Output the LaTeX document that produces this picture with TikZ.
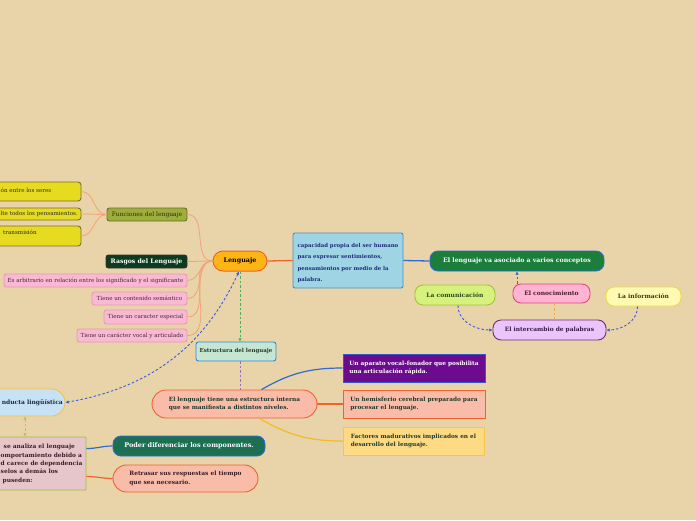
\documentclass[tikz,border=0pt]{standalone}
\usepackage{fontspec}
\setmainfont{DejaVu Serif}
\usetikzlibrary{arrows.meta}
\definecolor{bg}{HTML}{E8D4A8}
\definecolor{sal}{HTML}{F3A27A}
\definecolor{bl}{HTML}{2E6CD1}
\definecolor{bld}{HTML}{3B5BDB}
\definecolor{orr}{HTML}{F0632C}
\definecolor{salf}{HTML}{F9BCA9}
\definecolor{dgt}{HTML}{1F3A2B}
\definecolor{pinkf}{HTML}{F9B9D2}
\definecolor{pinkd}{HTML}{E59AAE}
\definecolor{pinkt}{HTML}{40263A}
\definecolor{yelf}{HTML}{E7DB1F}
\definecolor{yeld}{HTML}{7A6F35}
\newcommand\myfsS{\fontsize{5.6}{8.4}\selectfont}
\newcommand\myfsB{\fontsize{6}{8.6}\selectfont}
\newcommand\myfsM{\fontsize{5.8}{8.6}\selectfont}
\newcommand\myfsL{\fontsize{6.2}{9}\selectfont}
\begin{document}
\begin{tikzpicture}[x=1pt,y=-1pt,
  every node/.style={inner sep=0pt},
  nbox/.style={draw, line width=0.9pt, align=center},
  pinkbox/.style={nbox, fill=pinkf, draw=pinkd, rounded corners=2.5pt, minimum height=13pt, text=pinkt, font=\myfsS},
  yelbox/.style={nbox, fill=yelf, draw=yeld, rounded corners=3pt, minimum width=91pt},
  yeltext/.style={anchor=west, text=black!85, font=\myfsS},
  salline/.style={draw=sal, line width=0.8pt},
  tipend/.style={-{Latex[length=3.2pt,width=3.4pt]}},
  tipboth/.style={{Latex[length=3.2pt,width=3.4pt]}-{Latex[length=3.2pt,width=3.4pt]}},
  dashline/.style={line width=0.9pt, dash pattern=on 2.5pt off 2pt},
  rbox/.style={nbox, minimum width=142pt, minimum height=28pt, font=\myfsM\bfseries, align=left}
]
\fill[bg] (0,0) rectangle (696,520);
\useasboundingbox (0,0) rectangle (696,520);

% central node
\node[nbox, fill={rgb,255:red,253;green,181;blue,21}, draw=orr, line width=1pt, rounded corners=10pt,
  minimum width=54pt, minimum height=20pt, font=\fontsize{6.4}{9}\selectfont\bfseries] (leng) at (240,261) {Lenguaje};

% left branch
\node[nbox, fill={rgb,255:red,157;green,175;blue,58}, draw={rgb,255:red,111;green,107;blue,58},
  rounded corners=2.5pt, minimum width=80pt, minimum height=13pt, font=\fontsize{6}{9}\selectfont, text={rgb,255:red,43;green,42;blue,22}]
  (func) at (147,214.5) {Funciones del lenguaje};
\node[yelbox, minimum height=19pt] (y1) at (35.5,191.5) {};
\node[yeltext] (y1t) at (0.5,190) {ón entre los seres};
\node[yelbox, minimum height=12pt] (y2) at (35.5,214) {};
\node[yeltext] (y2t) at (0.5,214) {lte todos los pensamientos.};
\node[yelbox, minimum height=20pt] (y3) at (35.5,236) {};
\node[yeltext] (y3t) at (3,232.5) {transmisión};

\node[nbox, fill={rgb,255:red,12;green,59;blue,31}, draw=black!80, rounded corners=2.5pt,
  minimum width=81pt, minimum height=13pt, font=\myfsL\bfseries, text=white] (rasgos) at (146.5,261.5) {Rasgos del Lenguaje};
\node[pinkbox, minimum width=183pt] (p1) at (95.5,280.5) {Es arbitrario en relación entre los significado y el significante};
\node[pinkbox, minimum width=95pt] (p2) at (139.5,298.5) {Tiene un contenido semántico};
\node[pinkbox, minimum width=83pt, minimum height=14pt] (p3) at (145.5,317) {Tiene un caracter especial};
\node[pinkbox, minimum width=110pt] (p4) at (132,335.5) {Tiene un carácter vocal y articulado};

\foreach \t in {func,rasgos,p1,p2,p3,p4}
  \draw[salline] (leng.west) to[out=180,in=0] (\t.east);
\foreach \t in {y1,y2,y3}
  \draw[salline] (func.west) to[out=180,in=0] (\t.east);

% right branch
\node[nbox, fill={rgb,255:red,159;green,212;blue,229}, draw={rgb,255:red,75;green,143;blue,195}, rounded corners=2pt,
  minimum width=110pt, minimum height=55pt, align=left, text={rgb,255:red,30;green,44;blue,120},
  font=\fontsize{5.4}{11.5}\selectfont\bfseries] (cap) at (348,260.5)
  {\rule{0pt}{9pt}capacidad propia del ser humano\\para expresar sentimientos,\\pensamientos por medio de la\\palabra.};
\node[nbox, fill={rgb,255:red,27;green,126;blue,59}, draw=bl, rounded corners=8pt,
  minimum width=174pt, minimum height=20pt, font=\myfsL\bfseries, text=white] (asoc) at (517,261)
  {El lenguaje va asociado a varios conceptos};
\node[nbox, fill={rgb,255:red,214;green,242;blue,125}, draw={rgb,255:red,164;green,195;blue,58}, rounded corners=8pt,
  minimum width=80pt, minimum height=20pt, font=\myfsB\bfseries, text={rgb,255:red,47;green,74;blue,31}] (com) at (455,295) {La comunicación};
\node[nbox, fill={rgb,255:red,255;green,180;blue,210}, draw={rgb,255:red,232;green,68;blue,127}, rounded corners=8pt,
  minimum width=77pt, minimum height=19pt, font=\myfsB\bfseries, text={rgb,255:red,74;green,27;blue,46}] (con) at (551.5,293.5) {El conocimiento};
\node[nbox, fill={rgb,255:red,255;green,249;blue,178}, draw={rgb,255:red,240;green,217;blue,68}, rounded corners=8pt,
  minimum width=75pt, minimum height=19pt, font=\myfsB\bfseries, text={rgb,255:red,61;green,58;blue,26}] (inf) at (643.5,296.5) {La información};
\node[nbox, fill={rgb,255:red,234;green,196;blue,251}, draw={rgb,255:red,108;green,46;blue,120}, rounded corners=8pt,
  minimum width=113pt, minimum height=20pt, font=\fontsize{5.9}{8}\selectfont\bfseries, text={rgb,255:red,58;green,27;blue,74}] (inter) at (549.5,330) {El intercambio de palabras};

\draw[draw=orr, line width=1.3pt] (leng.east) -- (cap.west);
\draw[draw=bl, line width=1.3pt] (cap.east) -- (asoc.west);
\draw[draw=bld, dashline, tipend] (con.north -| asoc.south) -- (asoc.south);
\draw[draw={rgb,255:red,245;green,165;blue,80}, dashline] ([xshift=4.5pt]inter.north) -- ([xshift=4.5pt]inter.north |- con.south);
\draw[draw=bld, dashline, tipend] ([xshift=3pt]com.south) to[out=-90,in=180] (inter.west);
\draw[draw=bld, dashline, tipend] ([xshift=-6pt]inf.south) to[out=-90,in=0] (inter.east);

% lower middle
\node[nbox, fill={rgb,255:red,197;green,230;blue,208}, draw={rgb,255:red,59;green,130;blue,212}, rounded corners=2.5pt,
  minimum width=80pt, minimum height=19pt, font=\fontsize{5.5}{8}\selectfont\bfseries, text={rgb,255:red,38;green,54;blue,42}] (estr) at (236,351.5) {Estructura del lenguaje};
\node[nbox, fill=salf, draw=orr, rounded corners=14pt, minimum width=165pt, minimum height=28pt,
  font=\myfsM\bfseries, align=left, text=dgt] (estint) at (234.5,404)
  {El lenguaje tiene una estructura interna\\que se manifiesta a distintos niveles.};
\node[rbox, fill={rgb,255:red,108;green,11;blue,141}, draw={rgb,255:red,52;green,88;blue,201}, text=white] (purp) at (414,368)
  {Un aparato vocal-fonador que posibilita\\una articulación rápida.};
\node[rbox, fill=salf, draw=orr, text=dgt] (hem) at (414,404)
  {Un hemisferio cerebral preparado para\\procesar el lenguaje.};
\node[rbox, minimum width=141pt, fill={rgb,255:red,255;green,218;blue,133}, draw={rgb,255:red,247;green,197;blue,76}, text=dgt] (fac) at (413.5,441)
  {Factores madurativos implicados en el\\desarrollo del lenguaje.};

\draw[draw={rgb,255:red,76;green,175;blue,90}, dashline, tipend] (leng.south) -- (leng.south |- estr.north);
\draw[draw={rgb,255:red,154;green,112;blue,184}, dashline] (estr.south -| leng.south) -- (estint.north -| leng.south);
\draw[draw=bl, line width=1.2pt] ([xshift=27pt]estint.north) to[out=30,in=180] (purp.west);
\draw[draw=orr, line width=1.4pt] (estint.east) -- (hem.west);
\draw[draw={rgb,255:red,247;green,185;blue,36}, line width=1.2pt] ([xshift=25pt]estint.south) to[out=-30,in=180] (fac.west);

% lower left
\node[nbox, fill={rgb,255:red,200;green,226;blue,245}, draw={rgb,255:red,242;green,196;blue,75}, rounded corners=13.5pt,
  minimum width=95pt, minimum height=27pt] (condb) at (17.5,402.5) {};
\node[anchor=east, font=\fontsize{6}{9}\selectfont\bfseries, text={rgb,255:red,31;green,42;blue,58}] (condt) at (63,402.5) {nducta lingüística};
\node[nbox, fill={rgb,255:red,231;green,198;blue,201}, draw={rgb,255:red,158;green,195;blue,55}, rounded corners=1pt,
  minimum width=96pt, minimum height=53pt] (lbb) at (38,463.5) {};
\node[anchor=north west, align=left, font=\fontsize{5.9}{8.4}\selectfont\bfseries, text={rgb,255:red,58;green,30;blue,40}] (lbt) at (0.5,444)
  {\hspace*{3pt}se analiza el lenguaje\\omportamiento debido a\\d carece de dependencia\\selos a demás los\\\hspace*{2pt}puseden:};
\node[nbox, fill={rgb,255:red,28;green,111;blue,83}, draw=bl, rounded corners=8pt,
  minimum width=152pt, minimum height=20pt, font=\fontsize{6.5}{9}\selectfont\bfseries, text=white] (poder) at (189,446) {Poder diferenciar los componentes.};
\node[nbox, fill=salf, draw=orr, rounded corners=13.5pt, minimum width=145pt, minimum height=27pt,
  font=\fontsize{5.9}{8.6}\selectfont\bfseries, align=left, text={rgb,255:red,58;green,30;blue,40}] (retr) at (185.5,478.5)
  {Retrasar sus respuestas el tiempo\\que sea necesario.};

\draw[draw=bld, dashline, tipboth] ([xshift=-1pt]leng.south) to[out=-115,in=10] (condb.east);
\draw[draw={rgb,255:red,168;green,200;blue,96}, dashline, tipboth] ([xshift=7.5pt]condb.south) -- ([xshift=-13pt]lbb.north);
\draw[draw=bl, line width=1.2pt] ([yshift=-12pt]lbb.north east) to[out=0,in=180] (poder.west);
\draw[draw=orr, line width=1.2pt] ([yshift=14pt]lbb.south east) to[out=0,in=180] (retr.west);
\end{tikzpicture}
\end{document}
